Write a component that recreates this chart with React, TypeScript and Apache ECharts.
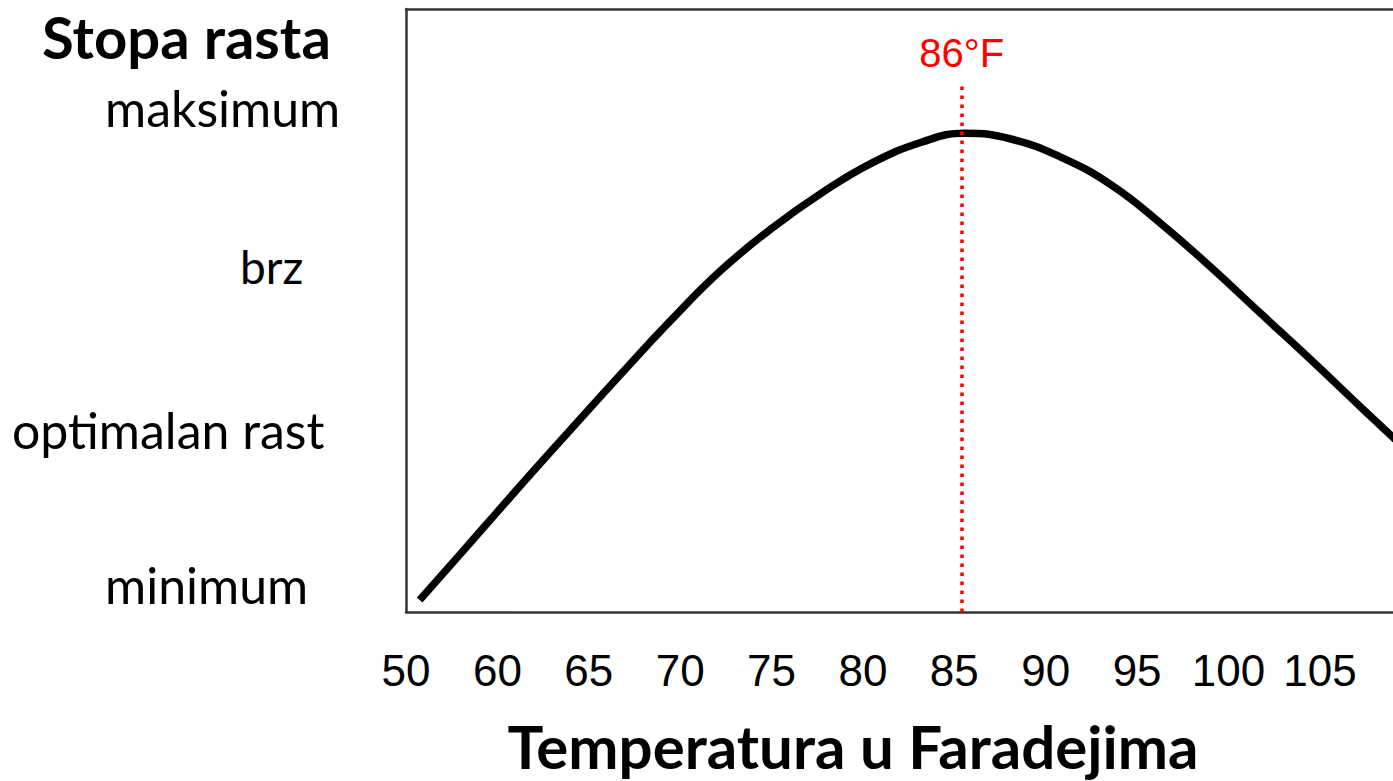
import React, { useEffect, useRef } from "react";
import * as echarts from "echarts";

// X axis: evenly spaced slots, each slot carries one tick label (as in the picture)
const tickLabels = ["50", "60", "65", "70", "75", "80", "85", "90", "95", "100", "105"];

// Growth-rate curve: [slot position, rate 0..100]
const curveSlots = [0.15, 0.71, 1.26, 1.81, 2.36, 2.9, 3.45, 4.0, 4.55, 5.09, 5.64, 6.11, 6.63, 7.17, 7.72, 8.27, 8.82, 9.36, 9.91, 10.46, 11.01, 11.5];
const curveRates = [2.0, 11.6, 21.1, 30.4, 39.6, 48.4, 56.7, 63.6, 69.5, 74.4, 77.9, 79.4, 78.4, 75.4, 70.8, 64.3, 57.0, 49.4, 41.7, 33.8, 26.0, 19.0];

// Optimum marker
const optimumLabel = "86°F";
const optimumSlot = 6.08;
const optimumTop = 87.7;

// Rate level labels (left side), top to bottom
const rateLevels = ["maksimum", "brz", "optimalan rast", "minimum"];
const yAxisTitle = "Stopa rasta";
const xAxisTitle = "Temperatura u Faradejima";

export default function App() {
  const ref = useRef<HTMLDivElement>(null);
  useEffect(() => {
    document.body.style.margin = "0";
    const chart = echarts.init(ref.current!, undefined, { renderer: "svg" });
    const levelPos = [
      { x: 105, y: 108 },
      { x: 240, y: 266 },
      { x: 12, y: 430 },
      { x: 105, y: 585 },
    ];
    const levelFont = 'Lato, "Open Sans", sans-serif';
    const frame = { show: true, lineStyle: { color: "#333333", width: 2.5 } };
    chart.setOption({
      animation: false,
      backgroundColor: "#ffffff",
      grid: {
        left: 406,
        top: 9,
        right: 0,
        bottom: 169,
        show: false,
      },
      xAxis: [
        {
          type: "value",
          min: 0,
          max: 10.8,
          interval: 1,
          axisLine: frame,
          axisTick: { show: false },
          splitLine: { show: false },
          axisLabel: {
            showMaxLabel: false,
            margin: 36,
            fontSize: 44,
            color: "#000000",
            fontFamily: '"Liberation Sans", Arial, sans-serif',
            formatter: (v: number) => tickLabels[Math.round(v)] ?? "",
          },
        },
        {
          type: "value",
          position: "top",
          min: 0,
          max: 10.8,
          axisLine: { ...frame, onZero: false },
          axisTick: { show: false },
          splitLine: { show: false },
          axisLabel: { show: false },
        },
      ],
      yAxis: {
        type: "value",
        min: 0,
        max: 100,
        axisLine: frame,
        axisTick: { show: false },
        splitLine: { show: false },
        axisLabel: { show: false },
      },
      series: [
        {
          type: "line",
          data: curveSlots.map((s, i) => [s, curveRates[i]]),
          smooth: 0.45,
          showSymbol: false,
          clip: true,
          lineStyle: { color: "#000000", width: 7.5 },
          markLine: {
            silent: true,
            symbol: "none",
            lineStyle: { color: "#ff0000", width: 3.5, type: [3.5, 5.5] },
            label: {
              show: true,
              position: "end",
              formatter: optimumLabel,
              color: "#ff0000",
              fontSize: 40,
              distance: 10,
              fontFamily: '"Liberation Sans", Arial, sans-serif',
            },
            data: [[{ coord: [optimumSlot, 0] }, { coord: [optimumSlot, optimumTop] }]],
          },
        },
      ],
      graphic: [
        {
          type: "text",
          x: 42,
          y: 36,
          style: {
            text: yAxisTitle,
            font: `bold 58px ${levelFont}`,
            fill: "#000000",
            textAlign: "left",
            textVerticalAlign: "middle",
          },
        },
        ...rateLevels.map((t, i) => ({
          type: "text",
          x: levelPos[i].x,
          y: levelPos[i].y,
          style: {
            text: t,
            font: `${i === 1 ? 46 : 50}px ${levelFont}`,
            fill: "#000000",
            textAlign: "left",
            textVerticalAlign: "middle",
          },
        })),
        {
          type: "text",
          x: 853,
          y: 746,
          style: {
            text: xAxisTitle,
            font: `bold 60px ${levelFont}`,
            fill: "#000000",
            textAlign: "center",
            textVerticalAlign: "middle",
          },
        },
      ],
    });
    return () => chart.dispose();
  }, []);
  return <div ref={ref} style={{ width: 1393, height: 781 }} />;
}
